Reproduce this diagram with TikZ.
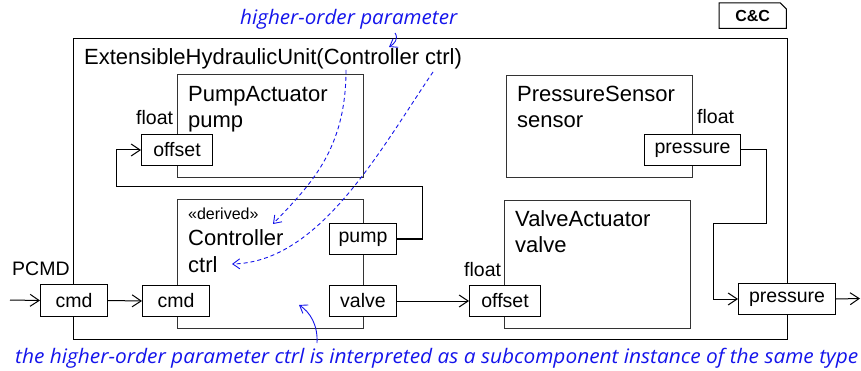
\documentclass[tikz,border=0pt]{standalone}
\usepackage{fontspec}
\setmainfont{Liberation Sans}
\newfontfamily\annotfont{Open Sans}
\usetikzlibrary{arrows.meta}
\definecolor{annblue}{RGB}{20,20,235}
\begin{document}
\begin{tikzpicture}[x=1pt,y=-1pt,
  box/.style={draw=black!80, line width=1pt, anchor=north west, inner sep=0pt},
  outer/.style={draw=black, line width=1.1pt, anchor=north west, inner sep=0pt},
  port/.style={draw=black, fill=white, line width=1pt, inner sep=0pt, anchor=north west, font=\fontsize{19.5}{22}\selectfont},
  lbl/.style={anchor=base west, inner sep=0pt, font=\fontsize{22}{26}\selectfont},
  smalllbl/.style={anchor=base west, inner sep=0pt, font=\fontsize{19.5}{22}\selectfont},
  conn/.style={line width=1pt, -{Straight Barb[length=9pt,width=12pt]}},
  note/.style={anchor=base west, inner sep=0pt, text=annblue, font=\annotfont\itshape\fontsize{20}{24}\selectfont},
  noteline/.style={draw=annblue, line width=0.9pt, -{Straight Barb[length=7pt,width=10pt]}}
]
\useasboundingbox (0,0) rectangle (861,371);

% outer component
\node[outer, minimum width=714pt, minimum height=301pt] (unit) at (73,38) {};
\node[lbl] (title) at (84,65) {ExtensibleHydraulicUnit(Controller ctrl)};

% C&C tag
\node[inner sep=0pt, minimum width=67pt, minimum height=25pt, anchor=north west, font=\bfseries\fontsize{16}{18}\selectfont] (tag) at (719,3) {C\&C};
\draw[line width=1pt] (tag.north west) -- ([xshift=-6pt]tag.north east) -- ([yshift=-6pt]tag.north east) -- (tag.south east) -- (tag.south west) -- cycle;

% subcomponents
\node[box, minimum width=186pt, minimum height=103pt] (pumpbox) at (177,74) {};
\node[lbl] (pumptype) at (188,102) {PumpActuator};
\node[lbl] (pumpname) at (188,128) {pump};

\node[box, minimum width=186pt, minimum height=129pt] (ctrlbox) at (177,199) {};
\node[anchor=base west, inner sep=0pt, font=\fontsize{16}{18}\selectfont] (stereo) at (188,220) {«derived»};
\node[lbl] (ctrltype) at (188,245) {Controller};
\node[lbl] (ctrlname) at (188,272) {ctrl};

\node[box, minimum width=186pt, minimum height=102pt] (sensbox) at (506,75) {};
\node[lbl] (senstype) at (517,102) {PressureSensor};
\node[lbl] (sensname) at (517,128) {sensor};

\node[box, minimum width=186pt, minimum height=128pt] (valvebox) at (504,200) {};
\node[lbl] (valvetype) at (515,226) {ValveActuator};
\node[lbl] (valvename) at (515,252) {valve};

% type labels of ports
\node[smalllbl] (fl1) at (136,125) {float};
\node[smalllbl] (fl2) at (697,124) {float};
\node[smalllbl] (fl3) at (464,276) {float};
\node[smalllbl] (pcmd) at (12,275) {PCMD};

% ports
\node[port, minimum width=71pt, minimum height=31pt] (poffset) at (141,134) {offset};
\node[port, minimum width=67pt, minimum height=31pt] (cpump) at (329,223) {pump};
\node[port, minimum width=67pt, minimum height=31pt] (cvalve) at (329,285) {valve};
\node[port, minimum width=67pt, minimum height=31pt] (ccmd) at (142,285) {cmd};
\node[port, minimum width=67pt, minimum height=32pt] (ucmd) at (40,284) {cmd};
\node[port, minimum width=71pt, minimum height=31pt] (voffset) at (469,285) {offset};
\node[port, minimum width=96pt, minimum height=31pt] (spress) at (644,134) {pressure};
\node[port, minimum width=97pt, minimum height=31pt] (upress) at (738,283) {pressure};

% connectors
\coordinate (inpt) at (10,300);
\coordinate (outpt) at (860,298.5);
\draw[conn] (inpt) -- (ucmd.west);
\draw[conn] (ucmd.east) -- (ccmd.west);
\draw[conn] (cvalve.east) -- (voffset.west);
\draw[conn] (cpump.east) -- ++(25,0) |- (116,187) |- (poffset.west);
\draw[conn] (spress.east) -- ++(25,0) |- (713,224) |- (upress.west);
\draw[conn] (upress.east) -- (outpt);

% annotations
\node[note] (hop) at (240,25) {\resizebox{217pt}{\height}{higher-order parameter}};
\node[note] (interp) at (15,363) {\resizebox{843pt}{\height}{the higher-order parameter ctrl is interpreted as a subcomponent instance of the same type}};

\coordinate (a1s) at (395,33);
\coordinate (a1e) at (389,47);
\draw[noteline] (a1s) .. controls (399,39) and (394,44) .. (a1e);

\coordinate (d1s) at (346,70);
\coordinate (d1e) at (273,224);
\draw[noteline, dash pattern=on 4pt off 3pt] (d1s) .. controls (346,150) and (310,185) .. (d1e);

\coordinate (d2s) at (433,72);
\coordinate (d2e) at (232,264);
\draw[noteline, dash pattern=on 4pt off 3pt] (d2s) .. controls (380,150) and (320,262) .. (d2e);

\coordinate (b1s) at (317,343);
\coordinate (b1e) at (299,305);
\draw[noteline] (b1s) .. controls (318,325) and (310,312) .. (b1e);
\end{tikzpicture}
\end{document}
